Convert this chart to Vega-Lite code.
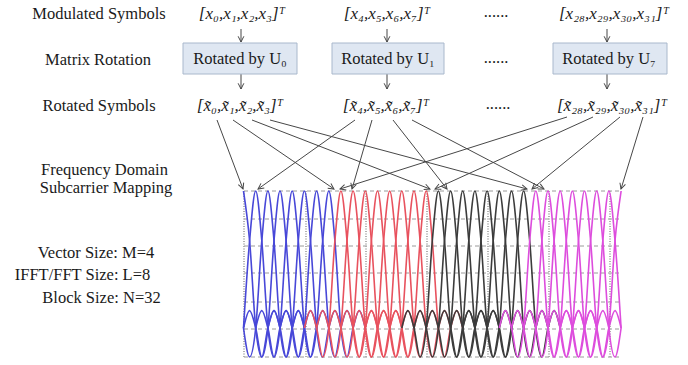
{
"$schema":"https://vega.github.io/schema/vega-lite/v6.json",
"width":688,"height":365,"padding":0,"autosize":{"type":"none"},
"background":"white",
"config":{"view":{"stroke":null},"text":{"font":"Liberation Serif"}},
"datasets":{
"hgrid":[{"x1":244,"x2":622,"y":191},{"x1":244,"x2":622,"y":219},{"x1":244,"x2":622,"y":246},{"x1":244,"x2":622,"y":273},{"x1":244,"x2":622,"y":302},{"x1":244,"x2":622,"y":329},{"x1":244,"x2":622,"y":357}],
"vgrid":[{"x":244,"y1":191,"y2":357},{"x":306,"y1":191,"y2":357},{"x":366,"y1":191,"y2":357},{"x":427,"y1":191,"y2":357},{"x":488,"y1":191,"y2":357},{"x":549,"y1":191,"y2":357},{"x":610,"y1":191,"y2":357}],
"spec":[
{"k":0,"x":243.5,"y":191},{"k":0,"x":249.6,"y":240.7},{"k":0,"x":255.7,"y":328},{"k":0,"x":261.8,"y":357},{"k":0,"x":267.9,"y":328},{"k":0,"x":274,"y":310.6},{"k":0,"x":280,"y":328},
{"k":1,"x":243.5,"y":328},{"k":1,"x":249.6,"y":240.7},{"k":1,"x":255.7,"y":191},{"k":1,"x":261.8,"y":240.7},{"k":1,"x":267.9,"y":328},{"k":1,"x":274,"y":357},{"k":1,"x":280,"y":328},{"k":1,"x":286.1,"y":310.6},{"k":1,"x":292.2,"y":328},
{"k":2,"x":243.5,"y":328},{"k":2,"x":249.6,"y":357},{"k":2,"x":255.7,"y":328},{"k":2,"x":261.8,"y":240.7},{"k":2,"x":267.9,"y":191},{"k":2,"x":274,"y":240.7},{"k":2,"x":280,"y":328},{"k":2,"x":286.1,"y":357},{"k":2,"x":292.2,"y":328},{"k":2,"x":298.3,"y":310.6},{"k":2,"x":304.4,"y":328},
{"k":3,"x":243.5,"y":328},{"k":3,"x":249.6,"y":310.6},{"k":3,"x":255.7,"y":328},{"k":3,"x":261.8,"y":357},{"k":3,"x":267.9,"y":328},{"k":3,"x":274,"y":240.7},{"k":3,"x":280,"y":191},{"k":3,"x":286.1,"y":240.7},{"k":3,"x":292.2,"y":328},{"k":3,"x":298.3,"y":357},{"k":3,"x":304.4,"y":328},{"k":3,"x":310.5,"y":310.6},{"k":3,"x":316.6,"y":328},
{"k":4,"x":255.7,"y":328},{"k":4,"x":261.8,"y":310.6},{"k":4,"x":267.9,"y":328},{"k":4,"x":274,"y":357},{"k":4,"x":280,"y":328},{"k":4,"x":286.1,"y":240.7},{"k":4,"x":292.2,"y":191},{"k":4,"x":298.3,"y":240.7},{"k":4,"x":304.4,"y":328},{"k":4,"x":310.5,"y":357},{"k":4,"x":316.6,"y":328},{"k":4,"x":322.7,"y":310.6},{"k":4,"x":328.8,"y":328},
{"k":5,"x":267.9,"y":328},{"k":5,"x":274,"y":310.6},{"k":5,"x":280,"y":328},{"k":5,"x":286.1,"y":357},{"k":5,"x":292.2,"y":328},{"k":5,"x":298.3,"y":240.7},{"k":5,"x":304.4,"y":191},{"k":5,"x":310.5,"y":240.7},{"k":5,"x":316.6,"y":328},{"k":5,"x":322.7,"y":357},{"k":5,"x":328.8,"y":328},{"k":5,"x":334.9,"y":310.6},{"k":5,"x":340.9,"y":328},
{"k":6,"x":280,"y":328},{"k":6,"x":286.1,"y":310.6},{"k":6,"x":292.2,"y":328},{"k":6,"x":298.3,"y":357},{"k":6,"x":304.4,"y":328},{"k":6,"x":310.5,"y":240.7},{"k":6,"x":316.6,"y":191},{"k":6,"x":322.7,"y":240.7},{"k":6,"x":328.8,"y":328},{"k":6,"x":334.9,"y":357},{"k":6,"x":340.9,"y":328},{"k":6,"x":347,"y":310.6},{"k":6,"x":353.1,"y":328},
{"k":7,"x":292.2,"y":328},{"k":7,"x":298.3,"y":310.6},{"k":7,"x":304.4,"y":328},{"k":7,"x":310.5,"y":357},{"k":7,"x":316.6,"y":328},{"k":7,"x":322.7,"y":240.7},{"k":7,"x":328.8,"y":191},{"k":7,"x":334.9,"y":240.7},{"k":7,"x":340.9,"y":328},{"k":7,"x":347,"y":357},{"k":7,"x":353.1,"y":328},{"k":7,"x":359.2,"y":310.6},{"k":7,"x":365.3,"y":328},
{"k":8,"x":304.4,"y":328},{"k":8,"x":310.5,"y":310.6},{"k":8,"x":316.6,"y":328},{"k":8,"x":322.7,"y":357},{"k":8,"x":328.8,"y":328},{"k":8,"x":334.9,"y":240.7},{"k":8,"x":340.9,"y":191},{"k":8,"x":347,"y":240.7},{"k":8,"x":353.1,"y":328},{"k":8,"x":359.2,"y":357},{"k":8,"x":365.3,"y":328},{"k":8,"x":371.4,"y":310.6},{"k":8,"x":377.5,"y":328},
{"k":9,"x":316.6,"y":328},{"k":9,"x":322.7,"y":310.6},{"k":9,"x":328.8,"y":328},{"k":9,"x":334.9,"y":357},{"k":9,"x":340.9,"y":328},{"k":9,"x":347,"y":240.7},{"k":9,"x":353.1,"y":191},{"k":9,"x":359.2,"y":240.7},{"k":9,"x":365.3,"y":328},{"k":9,"x":371.4,"y":357},{"k":9,"x":377.5,"y":328},{"k":9,"x":383.6,"y":310.6},{"k":9,"x":389.7,"y":328},
{"k":10,"x":328.8,"y":328},{"k":10,"x":334.9,"y":310.6},{"k":10,"x":340.9,"y":328},{"k":10,"x":347,"y":357},{"k":10,"x":353.1,"y":328},{"k":10,"x":359.2,"y":240.7},{"k":10,"x":365.3,"y":191},{"k":10,"x":371.4,"y":240.7},{"k":10,"x":377.5,"y":328},{"k":10,"x":383.6,"y":357},{"k":10,"x":389.7,"y":328},{"k":10,"x":395.8,"y":310.6},{"k":10,"x":401.8,"y":328},
{"k":11,"x":340.9,"y":328},{"k":11,"x":347,"y":310.6},{"k":11,"x":353.1,"y":328},{"k":11,"x":359.2,"y":357},{"k":11,"x":365.3,"y":328},{"k":11,"x":371.4,"y":240.7},{"k":11,"x":377.5,"y":191},{"k":11,"x":383.6,"y":240.7},{"k":11,"x":389.7,"y":328},{"k":11,"x":395.8,"y":357},{"k":11,"x":401.8,"y":328},{"k":11,"x":407.9,"y":310.6},{"k":11,"x":414,"y":328},
{"k":12,"x":353.1,"y":328},{"k":12,"x":359.2,"y":310.6},{"k":12,"x":365.3,"y":328},{"k":12,"x":371.4,"y":357},{"k":12,"x":377.5,"y":328},{"k":12,"x":383.6,"y":240.7},{"k":12,"x":389.7,"y":191},{"k":12,"x":395.8,"y":240.7},{"k":12,"x":401.8,"y":328},{"k":12,"x":407.9,"y":357},{"k":12,"x":414,"y":328},{"k":12,"x":420.1,"y":310.6},{"k":12,"x":426.2,"y":328},
{"k":13,"x":365.3,"y":328},{"k":13,"x":371.4,"y":310.6},{"k":13,"x":377.5,"y":328},{"k":13,"x":383.6,"y":357},{"k":13,"x":389.7,"y":328},{"k":13,"x":395.8,"y":240.7},{"k":13,"x":401.8,"y":191},{"k":13,"x":407.9,"y":240.7},{"k":13,"x":414,"y":328},{"k":13,"x":420.1,"y":357},{"k":13,"x":426.2,"y":328},{"k":13,"x":432.3,"y":310.6},{"k":13,"x":438.4,"y":328},
{"k":14,"x":377.5,"y":328},{"k":14,"x":383.6,"y":310.6},{"k":14,"x":389.7,"y":328},{"k":14,"x":395.8,"y":357},{"k":14,"x":401.8,"y":328},{"k":14,"x":407.9,"y":240.7},{"k":14,"x":414,"y":191},{"k":14,"x":420.1,"y":240.7},{"k":14,"x":426.2,"y":328},{"k":14,"x":432.3,"y":357},{"k":14,"x":438.4,"y":328},{"k":14,"x":444.5,"y":310.6},{"k":14,"x":450.6,"y":328},
{"k":15,"x":389.7,"y":328},{"k":15,"x":395.8,"y":310.6},{"k":15,"x":401.8,"y":328},{"k":15,"x":407.9,"y":357},{"k":15,"x":414,"y":328},{"k":15,"x":420.1,"y":240.7},{"k":15,"x":426.2,"y":191},{"k":15,"x":432.3,"y":240.7},{"k":15,"x":438.4,"y":328},{"k":15,"x":444.5,"y":357},{"k":15,"x":450.6,"y":328},{"k":15,"x":456.7,"y":310.6},{"k":15,"x":462.7,"y":328},
{"k":16,"x":401.8,"y":328},{"k":16,"x":407.9,"y":310.6},{"k":16,"x":414,"y":328},{"k":16,"x":420.1,"y":357},{"k":16,"x":426.2,"y":328},{"k":16,"x":432.3,"y":240.7},{"k":16,"x":438.4,"y":191},{"k":16,"x":444.5,"y":240.7},{"k":16,"x":450.6,"y":328},{"k":16,"x":456.7,"y":357},{"k":16,"x":462.7,"y":328},{"k":16,"x":468.8,"y":310.6},{"k":16,"x":474.9,"y":328},
{"k":17,"x":414,"y":328},{"k":17,"x":420.1,"y":310.6},{"k":17,"x":426.2,"y":328},{"k":17,"x":432.3,"y":357},{"k":17,"x":438.4,"y":328},{"k":17,"x":444.5,"y":240.7},{"k":17,"x":450.6,"y":191},{"k":17,"x":456.7,"y":240.7},{"k":17,"x":462.7,"y":328},{"k":17,"x":468.8,"y":357},{"k":17,"x":474.9,"y":328},{"k":17,"x":481,"y":310.6},{"k":17,"x":487.1,"y":328},
{"k":18,"x":426.2,"y":328},{"k":18,"x":432.3,"y":310.6},{"k":18,"x":438.4,"y":328},{"k":18,"x":444.5,"y":357},{"k":18,"x":450.6,"y":328},{"k":18,"x":456.7,"y":240.7},{"k":18,"x":462.7,"y":191},{"k":18,"x":468.8,"y":240.7},{"k":18,"x":474.9,"y":328},{"k":18,"x":481,"y":357},{"k":18,"x":487.1,"y":328},{"k":18,"x":493.2,"y":310.6},{"k":18,"x":499.3,"y":328},
{"k":19,"x":438.4,"y":328},{"k":19,"x":444.5,"y":310.6},{"k":19,"x":450.6,"y":328},{"k":19,"x":456.7,"y":357},{"k":19,"x":462.7,"y":328},{"k":19,"x":468.8,"y":240.7},{"k":19,"x":474.9,"y":191},{"k":19,"x":481,"y":240.7},{"k":19,"x":487.1,"y":328},{"k":19,"x":493.2,"y":357},{"k":19,"x":499.3,"y":328},{"k":19,"x":505.4,"y":310.6},{"k":19,"x":511.5,"y":328},
{"k":20,"x":450.6,"y":328},{"k":20,"x":456.7,"y":310.6},{"k":20,"x":462.7,"y":328},{"k":20,"x":468.8,"y":357},{"k":20,"x":474.9,"y":328},{"k":20,"x":481,"y":240.7},{"k":20,"x":487.1,"y":191},{"k":20,"x":493.2,"y":240.7},{"k":20,"x":499.3,"y":328},{"k":20,"x":505.4,"y":357},{"k":20,"x":511.5,"y":328},{"k":20,"x":517.6,"y":310.6},{"k":20,"x":523.6,"y":328},
{"k":21,"x":462.7,"y":328},{"k":21,"x":468.8,"y":310.6},{"k":21,"x":474.9,"y":328},{"k":21,"x":481,"y":357},{"k":21,"x":487.1,"y":328},{"k":21,"x":493.2,"y":240.7},{"k":21,"x":499.3,"y":191},{"k":21,"x":505.4,"y":240.7},{"k":21,"x":511.5,"y":328},{"k":21,"x":517.6,"y":357},{"k":21,"x":523.6,"y":328},{"k":21,"x":529.7,"y":310.6},{"k":21,"x":535.8,"y":328},
{"k":22,"x":474.9,"y":328},{"k":22,"x":481,"y":310.6},{"k":22,"x":487.1,"y":328},{"k":22,"x":493.2,"y":357},{"k":22,"x":499.3,"y":328},{"k":22,"x":505.4,"y":240.7},{"k":22,"x":511.5,"y":191},{"k":22,"x":517.6,"y":240.7},{"k":22,"x":523.6,"y":328},{"k":22,"x":529.7,"y":357},{"k":22,"x":535.8,"y":328},{"k":22,"x":541.9,"y":310.6},{"k":22,"x":548,"y":328},
{"k":23,"x":487.1,"y":328},{"k":23,"x":493.2,"y":310.6},{"k":23,"x":499.3,"y":328},{"k":23,"x":505.4,"y":357},{"k":23,"x":511.5,"y":328},{"k":23,"x":517.6,"y":240.7},{"k":23,"x":523.6,"y":191},{"k":23,"x":529.7,"y":240.7},{"k":23,"x":535.8,"y":328},{"k":23,"x":541.9,"y":357},{"k":23,"x":548,"y":328},{"k":23,"x":554.1,"y":310.6},{"k":23,"x":560.2,"y":328},
{"k":24,"x":499.3,"y":328},{"k":24,"x":505.4,"y":310.6},{"k":24,"x":511.5,"y":328},{"k":24,"x":517.6,"y":357},{"k":24,"x":523.6,"y":328},{"k":24,"x":529.7,"y":240.7},{"k":24,"x":535.8,"y":191},{"k":24,"x":541.9,"y":240.7},{"k":24,"x":548,"y":328},{"k":24,"x":554.1,"y":357},{"k":24,"x":560.2,"y":328},{"k":24,"x":566.3,"y":310.6},{"k":24,"x":572.4,"y":328},
{"k":25,"x":511.5,"y":328},{"k":25,"x":517.6,"y":310.6},{"k":25,"x":523.6,"y":328},{"k":25,"x":529.7,"y":357},{"k":25,"x":535.8,"y":328},{"k":25,"x":541.9,"y":240.7},{"k":25,"x":548,"y":191},{"k":25,"x":554.1,"y":240.7},{"k":25,"x":560.2,"y":328},{"k":25,"x":566.3,"y":357},{"k":25,"x":572.4,"y":328},{"k":25,"x":578.5,"y":310.6},{"k":25,"x":584.5,"y":328},
{"k":26,"x":523.6,"y":328},{"k":26,"x":529.7,"y":310.6},{"k":26,"x":535.8,"y":328},{"k":26,"x":541.9,"y":357},{"k":26,"x":548,"y":328},{"k":26,"x":554.1,"y":240.7},{"k":26,"x":560.2,"y":191},{"k":26,"x":566.3,"y":240.7},{"k":26,"x":572.4,"y":328},{"k":26,"x":578.5,"y":357},{"k":26,"x":584.5,"y":328},{"k":26,"x":590.6,"y":310.6},{"k":26,"x":596.7,"y":328},
{"k":27,"x":535.8,"y":328},{"k":27,"x":541.9,"y":310.6},{"k":27,"x":548,"y":328},{"k":27,"x":554.1,"y":357},{"k":27,"x":560.2,"y":328},{"k":27,"x":566.3,"y":240.7},{"k":27,"x":572.4,"y":191},{"k":27,"x":578.5,"y":240.7},{"k":27,"x":584.5,"y":328},{"k":27,"x":590.6,"y":357},{"k":27,"x":596.7,"y":328},{"k":27,"x":602.8,"y":310.6},{"k":27,"x":608.9,"y":328},
{"k":28,"x":548,"y":328},{"k":28,"x":554.1,"y":310.6},{"k":28,"x":560.2,"y":328},{"k":28,"x":566.3,"y":357},{"k":28,"x":572.4,"y":328},{"k":28,"x":578.5,"y":240.7},{"k":28,"x":584.5,"y":191},{"k":28,"x":590.6,"y":240.7},{"k":28,"x":596.7,"y":328},{"k":28,"x":602.8,"y":357},{"k":28,"x":608.9,"y":328},{"k":28,"x":615,"y":310.6},{"k":28,"x":621.1,"y":328},
{"k":29,"x":560.2,"y":328},{"k":29,"x":566.3,"y":310.6},{"k":29,"x":572.4,"y":328},{"k":29,"x":578.5,"y":357},{"k":29,"x":584.5,"y":328},{"k":29,"x":590.6,"y":240.7},{"k":29,"x":596.7,"y":191},{"k":29,"x":602.8,"y":240.7},{"k":29,"x":608.9,"y":328},{"k":29,"x":615,"y":357},{"k":29,"x":621.1,"y":328},
{"k":30,"x":572.4,"y":328},{"k":30,"x":578.5,"y":310.6},{"k":30,"x":584.5,"y":328},{"k":30,"x":590.6,"y":357},{"k":30,"x":596.7,"y":328},{"k":30,"x":602.8,"y":240.7},{"k":30,"x":608.9,"y":191},{"k":30,"x":615,"y":240.7},{"k":30,"x":621.1,"y":328},
{"k":31,"x":584.5,"y":328},{"k":31,"x":590.6,"y":310.6},{"k":31,"x":596.7,"y":328},{"k":31,"x":602.8,"y":357},{"k":31,"x":608.9,"y":328},{"k":31,"x":615,"y":240.7},{"k":31,"x":621.1,"y":191}
],
"arrows":[
{"x1":241,"y1":29,"x2":241,"y2":42,"a":180},{"x1":241,"y1":74,"x2":241,"y2":89,"a":180},
{"x1":387,"y1":29,"x2":387,"y2":42,"a":180},{"x1":387,"y1":74,"x2":387,"y2":89,"a":180},
{"x1":607,"y1":29,"x2":607,"y2":42,"a":180},{"x1":607,"y1":74,"x2":607,"y2":89,"a":180},
{"x1":217,"y1":120,"x2":243,"y2":189,"a":159.4},
{"x1":233,"y1":120,"x2":334,"y2":189,"a":124.3},
{"x1":252,"y1":120,"x2":430,"y2":189,"a":111.2},
{"x1":270,"y1":120,"x2":527,"y2":189,"a":105.0},
{"x1":355,"y1":120,"x2":258,"y2":189,"a":234.6},
{"x1":372,"y1":120,"x2":352,"y2":189,"a":196.2},
{"x1":393,"y1":120,"x2":447,"y2":189,"a":142.0},
{"x1":412,"y1":120,"x2":544,"y2":189,"a":117.6},
{"x1":567,"y1":117,"x2":340,"y2":189,"a":252.4},
{"x1":593,"y1":117,"x2":435,"y2":189,"a":245.5},
{"x1":620,"y1":117,"x2":532,"y2":189,"a":230.7},
{"x1":643,"y1":117,"x2":621,"y2":189,"a":197.0}
],
"boxes":[
{"x1":183,"x2":297,"y1":43,"y2":74,"t":"Rotated by U₀","cx":240,"cy":59},
{"x1":332,"x2":444,"y1":43,"y2":74,"t":"Rotated by U₁","cx":388,"cy":59},
{"x1":553,"x2":667,"y1":43,"y2":74,"t":"Rotated by U₇","cx":609,"cy":59}
],
"labels":[
{"t":"Modulated Symbols","x":99,"y":14},
{"t":"Matrix Rotation","x":98,"y":60},
{"t":"Rotated Symbols","x":99,"y":106},
{"t":"Frequency Domain","x":104.5,"y":170},
{"t":"Subcarrier Mapping","x":106,"y":188},
{"t":"Vector Size: M=4","x":96,"y":253},
{"t":"IFFT/FFT Size: L=8","x":82.5,"y":275},
{"t":"Block Size: N=32","x":101.5,"y":298},
{"t":"......","x":496,"y":12},
{"t":"......","x":496,"y":58},
{"t":"......","x":498,"y":104}
],
"expr":[
{"t":"[x₀,x₁,x₂,x₃]ᵀ","x":242,"y":14},
{"t":"[x₄,x₅,x₆,x₇]ᵀ","x":387,"y":14},
{"t":"[x₂₈,x₂₉,x₃₀,x₃₁]ᵀ","x":614,"y":14},
{"t":"[x̃₀,x̃₁,x̃₂,x̃₃]ᵀ","x":240,"y":106},
{"t":"[x̃₄,x̃₅,x̃₆,x̃₇]ᵀ","x":386,"y":106},
{"t":"[x̃₂₈,x̃₂₉,x̃₃₀,x̃₃₁]ᵀ","x":612,"y":106}
]
},
"layer":[
{"data":{"name":"hgrid"},"mark":{"type":"rule","color":"#9a9a9a","strokeDash":[4,3],"strokeWidth":1},
 "encoding":{"x":{"field":"x1","type":"quantitative","scale":{"domain":[0,688],"nice":false,"zero":false},"axis":null},"x2":{"field":"x2"},
 "y":{"field":"y","type":"quantitative","scale":{"domain":[0,365],"reverse":true,"nice":false,"zero":false},"axis":null}}},
{"data":{"name":"vgrid"},"mark":{"type":"rule","color":"#b0b0b0","strokeDash":[1,1.5],"strokeWidth":2},
 "encoding":{"x":{"field":"x","type":"quantitative","scale":{"domain":[0,688],"nice":false,"zero":false},"axis":null},
 "y":{"field":"y1","type":"quantitative","scale":{"domain":[0,365],"reverse":true,"nice":false,"zero":false},"axis":null},"y2":{"field":"y2"}}},
{"data":{"name":"spec"},"mark":{"type":"line","interpolate":"monotone","strokeWidth":1.6},
 "encoding":{"x":{"field":"x","type":"quantitative","scale":{"domain":[0,688],"nice":false,"zero":false},"axis":null},
 "y":{"field":"y","type":"quantitative","scale":{"domain":[0,365],"reverse":true,"nice":false,"zero":false},"axis":null},
 "detail":{"field":"k","type":"nominal"},
 "color":{"field":"k","type":"quantitative","scale":{"type":"threshold","domain":[8,16,24],"range":["#4848d8","#e8525e","#3c3c3c","#dd4ddd"]},"legend":null}}},
{"data":{"name":"arrows"},"mark":{"type":"rule","color":"#474747","strokeWidth":1},
 "encoding":{"x":{"field":"x1","type":"quantitative","scale":{"domain":[0,688],"nice":false,"zero":false},"axis":null},"x2":{"field":"x2"},
 "y":{"field":"y1","type":"quantitative","scale":{"domain":[0,365],"reverse":true,"nice":false,"zero":false},"axis":null},"y2":{"field":"y2"}}},
{"data":{"name":"arrows"},"mark":{"type":"point","shape":"M-0.6,1.2L0,0L0.6,1.2","filled":false,"stroke":"#474747","strokeWidth":1,"size":90,"opacity":1},
 "encoding":{"x":{"field":"x2","type":"quantitative","scale":{"domain":[0,688],"nice":false,"zero":false},"axis":null},
 "y":{"field":"y2","type":"quantitative","scale":{"domain":[0,365],"reverse":true,"nice":false,"zero":false},"axis":null},
 "angle":{"field":"a","type":"quantitative","scale":null}}},
{"data":{"name":"boxes"},"mark":{"type":"rect","fill":"#dfe7f2","stroke":"#a9b8cc","strokeWidth":1},
 "encoding":{"x":{"field":"x1","type":"quantitative","scale":{"domain":[0,688],"nice":false,"zero":false},"axis":null},"x2":{"field":"x2"},
 "y":{"field":"y1","type":"quantitative","scale":{"domain":[0,365],"reverse":true,"nice":false,"zero":false},"axis":null},"y2":{"field":"y2"}}},
{"data":{"name":"boxes"},"mark":{"type":"text","fontSize":16.5,"color":"#1a1a1a","baseline":"middle","align":"center","font":"Liberation Serif"},
 "encoding":{"x":{"field":"cx","type":"quantitative","scale":{"domain":[0,688],"nice":false,"zero":false},"axis":null},
 "y":{"field":"cy","type":"quantitative","scale":{"domain":[0,365],"reverse":true,"nice":false,"zero":false},"axis":null},
 "text":{"field":"t"}}},
{"data":{"name":"labels"},"mark":{"type":"text","fontSize":16.5,"color":"#1a1a1a","baseline":"middle","align":"center","font":"Liberation Serif"},
 "encoding":{"x":{"field":"x","type":"quantitative","scale":{"domain":[0,688],"nice":false,"zero":false},"axis":null},
 "y":{"field":"y","type":"quantitative","scale":{"domain":[0,365],"reverse":true,"nice":false,"zero":false},"axis":null},
 "text":{"field":"t"}}},
{"data":{"name":"expr"},"mark":{"type":"text","fontSize":17,"color":"#1a1a1a","baseline":"middle","align":"center","font":"Liberation Serif","fontStyle":"italic"},
 "encoding":{"x":{"field":"x","type":"quantitative","scale":{"domain":[0,688],"nice":false,"zero":false},"axis":null},
 "y":{"field":"y","type":"quantitative","scale":{"domain":[0,365],"reverse":true,"nice":false,"zero":false},"axis":null},
 "text":{"field":"t"}}}
]
}
